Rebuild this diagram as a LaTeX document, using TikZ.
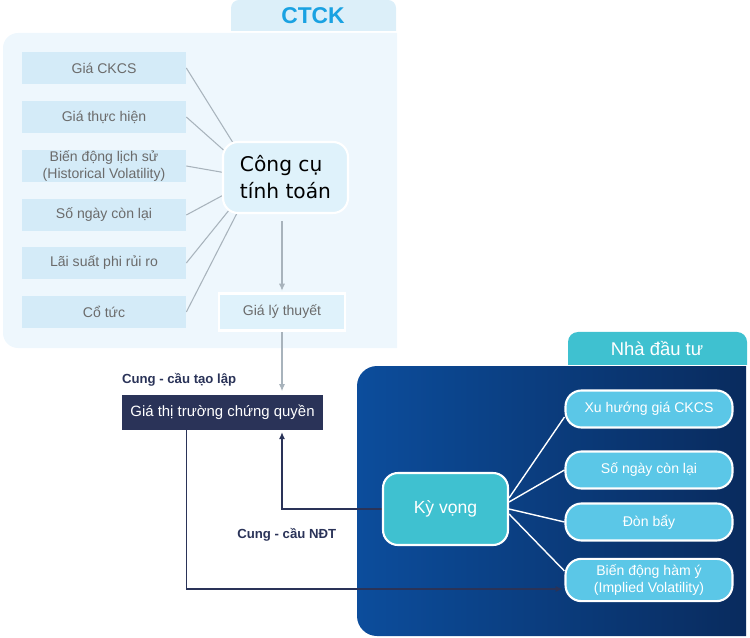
\documentclass[tikz,border=0pt]{standalone}
\usepackage{fontspec}
\setmainfont{Liberation Sans}
\newfontfamily\dejavu{DejaVu Sans}
\usetikzlibrary{positioning,arrows.meta,calc}
\tikzset{>={Latex[length=4pt,width=3.5pt]}}

\definecolor{ctckbg}{HTML}{EEF7FD}
\definecolor{ctcktab}{HTML}{DCEFF9}
\definecolor{inbox}{HTML}{D4EBF8}
\definecolor{toolbg}{HTML}{DFF2FB}
\definecolor{ctckblue}{HTML}{1AA2E2}
\definecolor{txtgray}{HTML}{6B6B6B}
\definecolor{wiregray}{HTML}{A8B3BC}
\definecolor{navy}{HTML}{2A3358}
\definecolor{tealbox}{HTML}{3FC1D0}
\definecolor{skybox}{HTML}{5BC7E7}
\definecolor{deepA}{HTML}{0C4D9C}
\definecolor{deepB}{HTML}{09295A}

\pgfdeclarelayer{panel}
\pgfdeclarelayer{wires}
\pgfsetlayers{panel,wires,main}

\tikzset{
  input/.style={rectangle, fill=inbox, text=txtgray, minimum width=3.28cm,
    minimum height=0.64cm, inner sep=0pt, align=center,
    font=\fontsize{8}{9.2}\selectfont},
  tool/.style={rectangle, rounded corners=0.3cm, fill=toolbg, draw=white,
    line width=1.2pt, minimum width=2.5cm, minimum height=1.42cm, align=left,
    font=\dejavu\fontsize{11.5}{15.4}\selectfont},
  theory/.style={rectangle, fill=toolbg, draw=white, line width=1.2pt,
    minimum width=2.52cm, minimum height=0.74cm, text=txtgray,
    font=\fontsize{8}{9.6}\selectfont},
  market/.style={rectangle, fill=navy, text=white, minimum width=4.02cm,
    minimum height=0.7cm, font=\fontsize{8.5}{10}\selectfont},
  expect/.style={rectangle, rounded corners=0.3cm, fill=tealbox, draw=white,
    line width=1.2pt, minimum width=2.5cm, minimum height=1.44cm, text=white,
    font=\fontsize{10}{12}\selectfont},
  factor/.style={rectangle, rounded corners=0.32cm, fill=skybox, draw=white,
    line width=1.2pt, minimum width=3.34cm, minimum height=0.74cm, text=white,
    align=center, font=\fontsize{8}{9.6}\selectfont},
  lbl/.style={text=navy, font=\bfseries\fontsize{7.5}{9}\selectfont, inner sep=0pt},
  wire/.style={draw=wiregray, line width=0.6pt},
  flow/.style={->, draw=navy, line width=0.8pt, shorten >=1pt}
}

\begin{document}
\begin{tikzpicture}[x=0.02cm, y=-0.02cm]
  \useasboundingbox (0,0) rectangle (750,638);

  % CTCK side
  \node[input] (b1) at (104,68) {Giá CKCS};
  \node[input] (b2) at (104,117) {Giá thực hiện};
  \node[input] (b3) at (104,166) {Biến động lịch sử\\(Historical Volatility)};
  \node[input] (b4) at (104,215) {Số ngày còn lại};
  \node[input] (b5) at (104,263) {Lãi suất phi rủi ro};
  \node[input] (b6) at (104,312) {Cổ tức};
  \node[tool] (tool) at (285.5,177.5) {Công cụ\\tính toán};
  \node[theory] (lt) at (282,312) {Giá lý thuyết};
  \node[font=\bfseries\fontsize{13}{15}\selectfont, text=ctckblue] (ctck) at (313,16) {CTCK};

  \node[market] (gtt) at (222.5,412.5) {Giá thị trường chứng quyền};
  \node[lbl, above right=0.3cm and 0pt of gtt.north west, anchor=west] (sup1) {Cung - cầu tạo lập};

  % investor side
  \node[expect] (ky) at (445.5,509) {Kỳ vọng};
  \node[factor] (r1) at (649,409) {Xu hướng giá CKCS};
  \node[factor] (r2) at (649,470) {Số ngày còn lại};
  \node[factor] (r3) at (649,522) {Đòn bẩy};
  \node[factor, minimum height=0.8cm] (r4) at (649,580) {Biến động hàm ý\\(Implied Volatility)};
  \node[text=white, font=\fontsize{10.5}{12}\selectfont] (ndt) at (657,349) {Nhà đầu tư};
  \node[lbl, anchor=west] (sup2) at (237,535) {Cung - cầu NĐT};

  \begin{pgfonlayer}{panel}
    \begin{scope}
      \clip (0,33) rectangle (397,360);
      \fill[ctckbg, rounded corners=0.3cm] (3,33) rectangle (430,348);
    \end{scope}
    \begin{scope}
      \clip (0,0) rectangle (397,31);
      \fill[ctcktab, rounded corners=0.16cm] (231,0) rectangle (396,60);
    \end{scope}
    \begin{scope}
      \clip (300,366) rectangle (746,638);
      \shade[left color=deepA, right color=deepB, rounded corners=0.4cm]
        (357,366) rectangle (770,636);
    \end{scope}
    \begin{scope}
      \clip (500,300) rectangle (750,364);
      \fill[tealbox, rounded corners=0.2cm] (568,332) rectangle (747,380);
    \end{scope}
  \end{pgfonlayer}

  \begin{pgfonlayer}{wires}
    \coordinate (hub) at (255,178);
    \foreach \b in {b1,b2,b3,b4,b5,b6}
      \draw[wire] (\b.east) -- (hub);
    \draw[wire, ->, shorten <=4pt, shorten >=1pt] (lt.north |- tool.south) -- (lt.north);
    \draw[wire, ->, shorten >=2pt] (lt.south) -- (gtt.north -| lt.south);
    \draw[white, line width=0.8pt] ($(ky.east)+(0,-11)$) -- ($(r1.west)+(0,8)$);
    \draw[white, line width=0.8pt] ($(ky.east)+(0,-7)$) -- (r2.west);
    \draw[white, line width=0.8pt] (ky.east) -- (r3.west);
    \draw[white, line width=0.8pt] ($(ky.east)+(0,5)$) -- ($(r4.west)+(0,-9)$);
    \draw[flow] (ky.west) -| (lt.south |- gtt.south);
    \draw[flow] (gtt.south -| b6.east) |- ($(r4.west)+(0,9)$);
  \end{pgfonlayer}
\end{tikzpicture}
\end{document}
